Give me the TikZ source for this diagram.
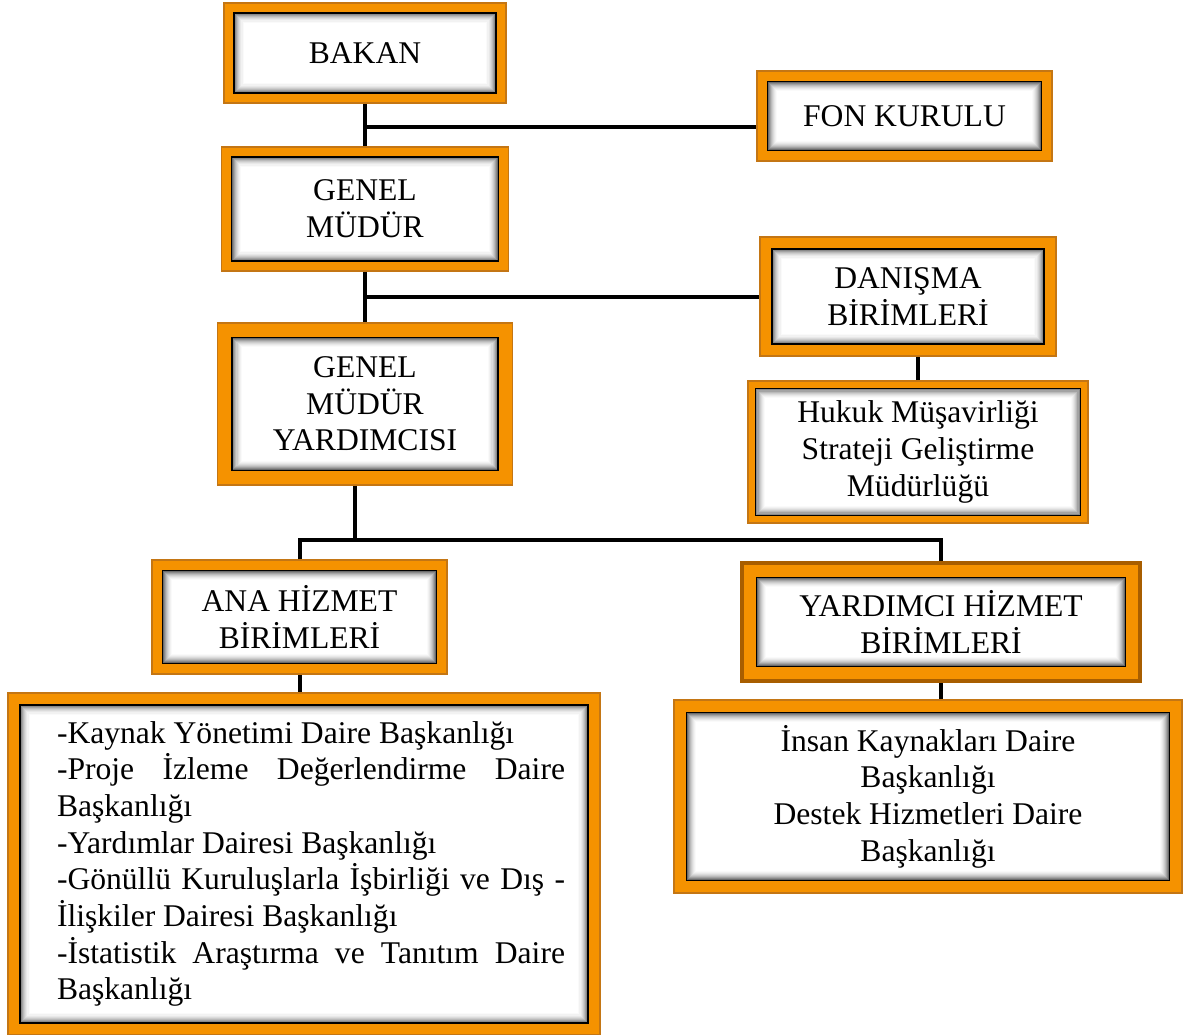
\documentclass[tikz,border=0pt]{standalone}
\usepackage{fontspec}
\setmainfont{Liberation Serif}
\usetikzlibrary{positioning}

\definecolor{orgfill}{RGB}{245,146,0}
\definecolor{orgline}{RGB}{196,118,20}
\definecolor{orgdark}{RGB}{168,94,0}
\newcommand\boxfont{\fontsize{23.7}{27.5}\selectfont}
\newcommand\spreadline[1]{\leavevmode\hbox to 381pt{#1}}

\tikzset{
  orgbox/.style={draw=orgline, line width=1.2pt, fill=orgfill, align=center, font=\boxfont, inner sep=0pt,
    path picture={
      \coordinate (ia) at ([shift={(#1,#1)}]path picture bounding box.south west);
      \coordinate (ib) at ([shift={(-#1,-#1)}]path picture bounding box.north east);
      \fill[white] (ia) rectangle (ib);
      \foreach \k/\c in {0/58,1/46,2/36,3/27,4/20,5/14,6/9,7/5,8/2}
        \draw[black!\c, line width=0.9pt] ([shift={(0.45pt+\k*0.8pt,0.45pt+\k*0.8pt)}]ia) rectangle ([shift={(-0.45pt-\k*0.8pt,-0.45pt-\k*0.8pt)}]ib);
      \draw[black, line width=1.2pt] (ia) rectangle (ib);
    }},
  orgbox/.default=7.5pt,
  boxsize/.style 2 args={minimum width=#1*0.75pt, minimum height=#2*0.75pt},
  link/.style={line width=3pt, black},
}

\begin{document}
\begin{tikzpicture}[x=0.75pt,y=-0.75pt]
	\useasboundingbox (0,0) rectangle (1197,1035);
	
	% boxes
	\node[orgbox, boxsize={282}{100}] (bakan) at (365,53) {BAKAN};
	\node[orgbox=8pt, boxsize={295}{90}] (fonkurulu) at (904.5,116) {FON KURULU};
	\node[orgbox, boxsize={287}{124}] (genelmudur) at (365,209) {GENEL\\MÜDÜR};
	\node[orgbox=9pt, boxsize={296}{119}] (danisma) at (908,296.5) {DANIŞMA\\BİRİMLERİ};
	\node[orgbox=5.5pt, boxsize={340}{142}] (hukuk) at (918,452) {Hukuk Müşavirliği\\Strateji Geliştirme\\Müdürlüğü};
	\node[orgbox=11pt, boxsize={295}{162}] (gmyard) at (365,404) {GENEL\\MÜDÜR\\YARDIMCISI};
	\node[orgbox=8pt, boxsize={295}{114}] (anahizmet) at (299.5,617) {ANA HİZMET\\BİRİMLERİ};
	\node[orgbox=11pt, draw=orgdark, line width=3pt, boxsize={398}{118}] (yardhizmet) at (941,622) {YARDIMCI HİZMET\\BİRİMLERİ};
	\node[orgbox=9pt, boxsize={592}{342}] (analist) at (304,864) {\hspace*{10.5pt}\parbox[c]{381pt}{%
		-Kaynak Yönetimi Daire Başkanlığı\\
		\spreadline{-Proje\hfill İzleme\hfill Değerlendirme\hfill Daire}\\
		Başkanlığı\\
		-Yardımlar Dairesi Başkanlığı\\
		\spreadline{-Gönüllü\hfill Kuruluşlarla\hfill İşbirliği\hfill ve\hfill Dış\hfill -}\\
		İlişkiler Dairesi Başkanlığı\\
		\spreadline{-İstatistik\hfill Araştırma\hfill ve\hfill Tanıtım\hfill Daire}\\
		Başkanlığı}};
	\node[orgbox=9.5pt, boxsize={508}{193}] (yardlist) at (928,796.5) {İnsan Kaynakları Daire\\Başkanlığı\\Destek Hizmetleri Daire\\Başkanlığı};
	
	% connectors
	\coordinate (fonjoin) at (365,127);
	\coordinate (split) at (355,540);
	\draw[link] (bakan.south) -- (genelmudur.north);
	\draw[link] (fonjoin) -- (fonjoin -| fonkurulu.west);
	\draw[link] (genelmudur.south) -- (gmyard.north);
	\draw[link] (genelmudur.south |- danisma.west) -- (danisma.west);
	\draw[link] (hukuk.north) -- (hukuk.north |- danisma.south);
	\draw[link] (split |- gmyard.south) -- (split);
	\draw[link] (anahizmet.north) -- (anahizmet.north |- split) -- (yardhizmet.north |- split) -- (yardhizmet.north);
	\draw[link] (anahizmet.south) -- (anahizmet.south |- analist.north);
	\draw[link] (yardhizmet.south) -- (yardhizmet.south |- yardlist.north);
	
\end{tikzpicture}
\end{document}
